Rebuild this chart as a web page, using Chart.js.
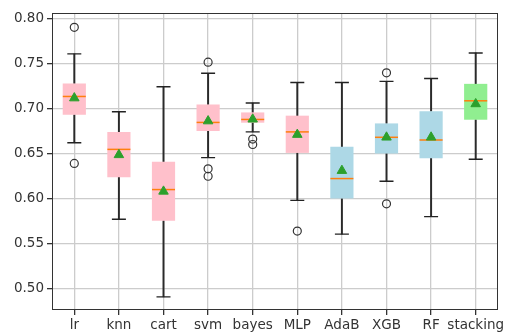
<!DOCTYPE html>
<html>
<head>
<meta charset="utf-8">
<script src="https://cdn.jsdelivr.net/npm/chart.js@4/dist/chart.umd.min.js"></script>
<style>
  html, body { margin: 0; padding: 0; background: #fff; }
  #wrap { width: 511px; height: 334px; }
</style>
</head>
<body>
<div id="wrap"><canvas id="boxChart" width="511" height="334"></canvas></div>
<script>
// model names on the x axis
const labels = ['lr', 'knn', 'cart', 'svm', 'bayes', 'MLP', 'AdaB', 'XGB', 'RF', 'stacking'];
// box plot statistics
const whiskerLow  = [0.662, 0.577, 0.491, 0.6455, 0.674, 0.598, 0.5606, 0.6193, 0.580, 0.6436];
const q1          = [0.693, 0.6237, 0.5754, 0.675, 0.6842, 0.6507, 0.600, 0.650, 0.6447, 0.6875];
const medians     = [0.7133, 0.6546, 0.610, 0.6845, 0.6878, 0.674, 0.6222, 0.668, 0.665, 0.7085];
const q3          = [0.7277, 0.674, 0.641, 0.7044, 0.6956, 0.692, 0.6576, 0.6834, 0.697, 0.7273];
const whiskerHigh = [0.7605, 0.6963, 0.724, 0.739, 0.706, 0.7288, 0.7288, 0.730, 0.7332, 0.7616];
const means       = [0.7115, 0.6485, 0.608, 0.686, 0.688, 0.671, 0.631, 0.668, 0.668, 0.705];
// outliers: [model, value]
const fliers = [
    ['lr', 0.790], ['lr', 0.639],
    ['svm', 0.7513], ['svm', 0.633], ['svm', 0.6248],
    ['bayes', 0.666], ['bayes', 0.660],
    ['MLP', 0.564],
    ['XGB', 0.7395], ['XGB', 0.5942]
];
const yTicks = [0.50, 0.55, 0.60, 0.65, 0.70, 0.75, 0.80];
const boxColors = ['pink', 'pink', 'pink', 'pink', 'pink', 'pink',
                   'lightblue', 'lightblue', 'lightblue', 'lightgreen'];

document.addEventListener("DOMContentLoaded", function() {
    const colorMap = { pink: '#ffc0cb', lightblue: '#add8e6', lightgreen: '#90ee90' };

    // frame around the plot area (all four spines)
    const framePlugin = {
        id: 'frame',
        afterDraw(chart) {
            const a = chart.chartArea;
            const ctx = chart.ctx;
            ctx.save();
            ctx.strokeStyle = '#333';
            ctx.lineWidth = 1;
            ctx.strokeRect(a.left + 0.5, a.top + 0.5, a.right - a.left - 1, a.bottom - a.top - 1);
            ctx.restore();
        }
    };

    const font = { family: 'DejaVu Sans', size: 13.5 };

    new Chart(document.getElementById('boxChart'), {
        type: 'bar',
        data: {
            labels: labels,
            datasets: [
                {
                    type: 'line',
                    label: 'fliers',
                    data: fliers.map(f => ({ x: f[0], y: f[1] })),
                    showLine: false,
                    pointStyle: 'circle',
                    pointRadius: 4,
                    pointBackgroundColor: 'rgba(0,0,0,0)',
                    pointBorderColor: '#333',
                    pointBorderWidth: 1.2
                },
                {
                    type: 'line',
                    label: 'means',
                    data: means,
                    showLine: false,
                    pointStyle: 'triangle',
                    pointRadius: 5.5,
                    pointBackgroundColor: '#2ca02c',
                    pointBorderColor: '#2ca02c',
                    pointBorderWidth: 1
                },
                {
                    type: 'line',
                    label: 'medians',
                    data: medians,
                    showLine: false,
                    pointStyle: 'line',
                    pointRadius: 11.5,
                    pointBorderColor: '#ff7f0e',
                    pointBorderWidth: 1.5
                },
                {
                    type: 'line',
                    label: 'capsHigh',
                    data: whiskerHigh,
                    showLine: false,
                    pointStyle: 'line',
                    pointRadius: 7,
                    pointBorderColor: '#222',
                    pointBorderWidth: 1.4
                },
                {
                    type: 'line',
                    label: 'capsLow',
                    data: whiskerLow,
                    showLine: false,
                    pointStyle: 'line',
                    pointRadius: 7,
                    pointBorderColor: '#222',
                    pointBorderWidth: 1.4
                },
                {
                    label: 'boxes',
                    data: labels.map((l, i) => [q1[i], q3[i]]),
                    backgroundColor: boxColors.map(c => colorMap[c]),
                    borderWidth: 0,
                    grouped: false,
                    barPercentage: 0.52,
                    categoryPercentage: 1
                },
                {
                    label: 'whiskersHigh',
                    data: labels.map((l, i) => [q3[i], whiskerHigh[i]]),
                    backgroundColor: '#2a2a2a',
                    borderWidth: 0,
                    grouped: false,
                    barThickness: 1.3
                },
                {
                    label: 'whiskersLow',
                    data: labels.map((l, i) => [whiskerLow[i], q1[i]]),
                    backgroundColor: '#2a2a2a',
                    borderWidth: 0,
                    grouped: false,
                    barThickness: 1.3
                }
            ]
        },
        options: {
            responsive: false,
            animation: false,
            events: [],
            layout: { padding: { left: 0, right: 3, top: 12, bottom: 0 } },
            plugins: {
                legend: { display: false },
                tooltip: { enabled: false }
            },
            scales: {
                x: {
                    offset: true,
                    grid: {
                        offset: false,
                        color: '#cccccc',
                        lineWidth: 1.3,
                        tickColor: '#333',
                        tickLength: 5
                    },
                    border: { display: false },
                    ticks: { color: '#333', font: font, padding: 2, maxRotation: 0, autoSkip: false },
                    afterFit(scale) { scale.height = 24; }
                },
                y: {
                    min: 0.4764,
                    max: 0.8059,
                    grid: {
                        color: '#cccccc',
                        lineWidth: 1.3,
                        tickColor: '#333',
                        tickLength: 5
                    },
                    border: { display: false },
                    ticks: {
                        color: '#333',
                        font: font,
                        padding: 3,
                        callback: v => Number(v).toFixed(2)
                    },
                    afterBuildTicks(scale) { scale.ticks = yTicks.map(v => ({ value: v })); },
                    afterFit(scale) { scale.width = 52; }
                }
            }
        },
        plugins: [framePlugin]
    });
});
</script>
</body>
</html>
